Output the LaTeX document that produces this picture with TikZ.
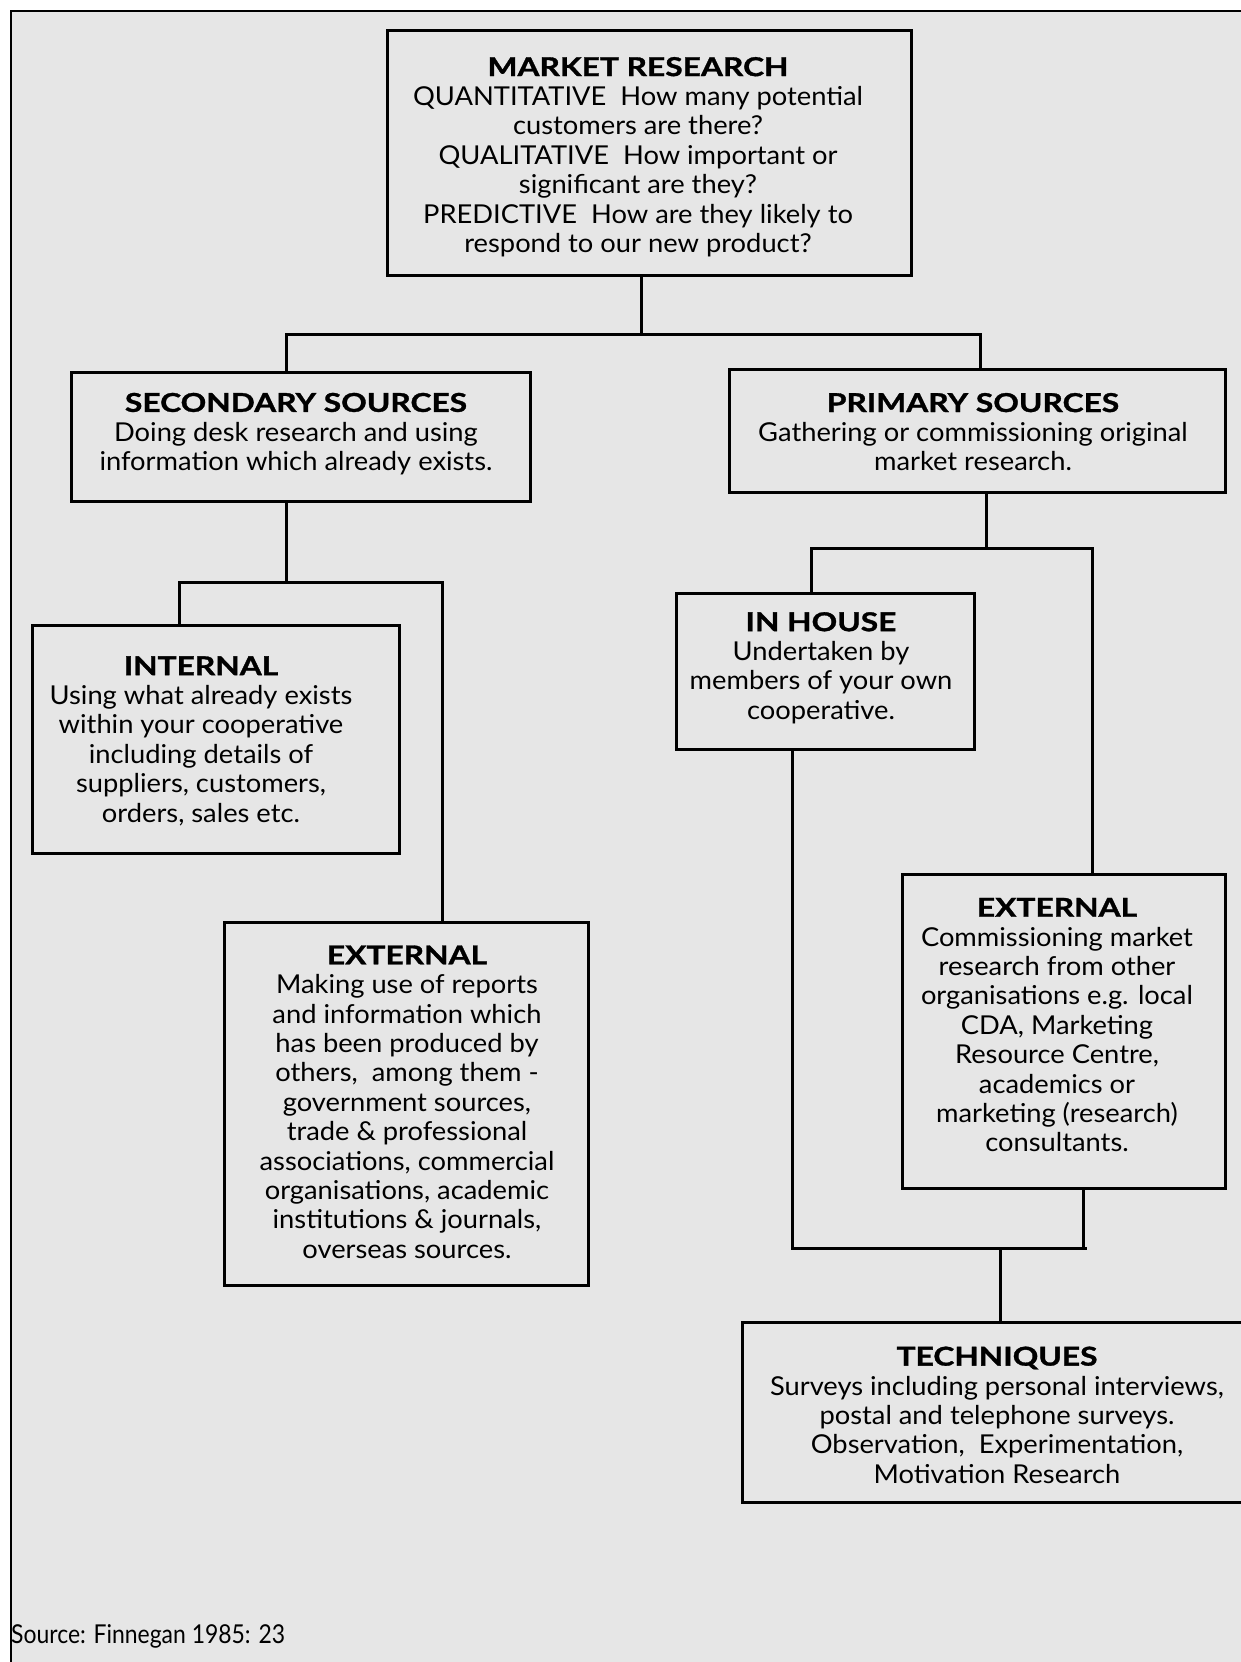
\documentclass[tikz,border=0pt]{standalone}
\usepackage{fontspec}
\setmainfont{Lato}[FakeStretch=1.05, BoldFeatures={FakeStretch=1.22, FakeBold=1.2}]
\definecolor{bg}{RGB}{230,230,230}
\begin{document}
\begin{tikzpicture}[x=1pt,y=-1pt,
  box/.style={draw, line width=3pt, minimum width=#1, anchor=north west, inner sep=0},
  ln/.style={line width=3pt},
  txt/.style={align=center, font=\fontsize{26}{29.4}\selectfont, inner sep=0}]
\useasboundingbox (0,0) rectangle (1241,1662);
\fill[white] (0,0) rectangle (1241,1662);
\fill[bg] (11,11) rectangle (1241,1662);
\draw[line width=2pt] (1241,11) -- (11,11) -- (11,1662);

% boxes
\node[box=524, minimum height=245] (mr) at (386,29) {};
\node[box=459, minimum height=129] (sec) at (70,371) {};
\node[box=496, minimum height=123] (pri) at (728,368) {};
\node[box=367, minimum height=228] (int) at (31,624) {};
\node[box=364, minimum height=363] (extL) at (223,921) {};
\node[box=298, minimum height=156] (inh) at (675,592) {};
\node[box=323, minimum height=314] (extR) at (901,873) {};
\node[box=560, minimum height=180] (tech) at (741,1321) {};

% texts
\node[txt] (mrT) at (638,157) {\textbf{MARKET RESEARCH}\\
QUANTITATIVE~~How many potential\\ customers are there?\\
QUALITATIVE~~How important or\\ significant are they?\\
PREDICTIVE~~How are they likely to\\ respond to our new product?};
\node[txt] (secT) at (296,434) {\textbf{SECONDARY SOURCES}\\ Doing desk research and using\\ information which already exists.};
\node[txt] (priT) at (973,432) {\textbf{PRIMARY SOURCES}\\ Gathering or commissioning original\\ market research.};
\node[txt] (intT) at (201,741) {\textbf{INTERNAL}\\ Using what already exists\\ within your cooperative\\ including details of\\ suppliers, customers,\\ orders, sales etc.};
\node[txt] (extLT) at (407,1102) {\textbf{EXTERNAL}\\ Making use of reports\\ and information which\\ has been produced by\\ others,~~among them -\\ government sources,\\ trade \& professional\\ associations, commercial\\ organisations, academic\\ institutions \& journals,\\ overseas sources.};
\node[txt] (inhT) at (821,668) {\textbf{IN HOUSE}\\ Undertaken by\\ members of your own\\ cooperative.};
\node[txt] (extRT) at (1057,1025) {\textbf{EXTERNAL}\\ Commissioning market\\ research from other\\ organisations e.g. local\\ CDA, Marketing\\ Resource Centre,\\ academics or\\ marketing (research)\\ consultants.};
\node[txt] (techT) at (997,1415) {\textbf{TECHNIQUES}\\ Surveys including personal interviews,\\ postal and telephone surveys.\\ Observation,~~Experimentation,\\ Motivation Research};
\node[txt, anchor=base west] (src) at (11,1643) {\scalebox{0.84}[1]{Source: Finnegan 1985: 23}};

% connectors
\coordinate (j1) at (641,334);
\coordinate (j1l) at (286,334);
\coordinate (j1r) at (980,334);
\draw[ln] (j1 |- mr.south) -- (j1);
\draw[ln] (sec.north -| j1l) -- (j1l) -- (j1r) -- (j1r |- pri.north);

\coordinate (j2) at (286,582);
\coordinate (j2l) at (179,582);
\coordinate (j2r) at (442,582);
\draw[ln] (j2 |- sec.south) -- (j2);
\draw[ln] (int.north -| j2l) -- (j2l) -- (j2r) -- (j2r |- extL.north);

\coordinate (j3) at (986,548);
\coordinate (j3l) at (811,548);
\coordinate (j3r) at (1092,548);
\draw[ln] (j3 |- pri.south) -- (j3);
\draw[ln] (inh.north -| j3l) -- (j3l) -- (j3r) -- (j3r |- extR.north);

\coordinate (j4l) at (792,1248);
\coordinate (j4r) at (1087,1248);
\coordinate (j4rv) at (1083,1248);
\coordinate (j4m) at (1000,1248);
\draw[ln] (inh.south -| j4l) -- (j4l) -- (j4r);
\draw[ln] (extR.south -| j4rv) -- (j4rv);
\draw[ln] (j4m) -- (j4m |- tech.north);
\end{tikzpicture}
\end{document}
